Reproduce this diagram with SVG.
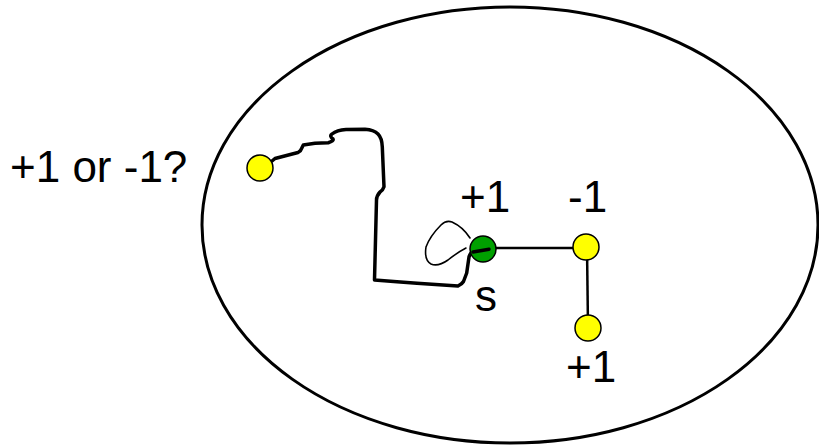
<svg xmlns="http://www.w3.org/2000/svg" width="819" height="446" viewBox="0 0 819 446">
  <style>
    .lbl { font-family: "Liberation Sans", Arial, sans-serif; font-size: 44px; fill: #000; }
    .site { stroke: #000; stroke-width: 1.5; }
    .yellow { fill: #ffff00; }
    .green { fill: #00a000; }
    .bond { stroke: #000; stroke-width: 2.5; fill: none; }
    .walk { stroke: #000; stroke-width: 3.5; fill: none; stroke-linecap: round; stroke-linejoin: round; }
    .loop { stroke: #000; stroke-width: 1.6; fill: none; stroke-linecap: round; }
  </style>

  <!-- lattice boundary -->
  <ellipse id="boundary" cx="510" cy="225" rx="308" ry="218" fill="none" stroke="#000" stroke-width="3"/>

  <!-- connectors -->
  <g id="connectors">
    <line class="bond" x1="483" y1="248" x2="586" y2="248"/>
    <line class="bond" x1="587" y1="248" x2="588" y2="327"/>
    <!-- random walk from the far site back to s -->
    <path class="walk" d="M272,161 L275,158.5 L298,152.5 Q301,151 301.7,148.3 L303.3,145 L315,143.3 L328.3,142.7 Q334,141 333,139 Q329,136 332,134 Q337,130 346,129.5 L365,129.3 Q374,130 378,134 Q382,138 382.3,147 L384,186.7 Q383,190 380,192 Q376.5,196 376.5,200 L374.5,280 L397,281.7 L417,283.3 L443,285 L458,286 Q462,284 463.5,281.5 L466.7,273 L469,257 Q470,253 473,252 L489,249.3"/>
    <path class="loop" d="M470,238 Q463,227 452,222 Q446,220 441,225 Q430,236 426,247 Q424,260 431,264 Q438,267 448,260 Q458,252 466,248"/>
  </g>

  <g id="far-site">
    <circle class="site yellow" cx="260" cy="168" r="13"/>
    <text class="lbl" x="10" y="182" font-size="46">+1 or -1?</text>
  </g>

  <g id="s">
    <circle class="site green" cx="483" cy="249" r="13"/>
    <path class="walk" d="M473,252 L489,249.3"/>
    <text class="lbl" x="460" y="212">+1</text>
    <text class="lbl" x="475" y="311" font-size="47">s</text>
  </g>

  <g id="neighbor">
    <circle class="site yellow" cx="586" cy="247" r="13"/>
    <text class="lbl" x="568" y="212">-1</text>
  </g>

  <g id="second-neighbor">
    <circle class="site yellow" cx="588" cy="328" r="13"/>
    <text class="lbl" x="566" y="382">+1</text>
  </g>
</svg>
